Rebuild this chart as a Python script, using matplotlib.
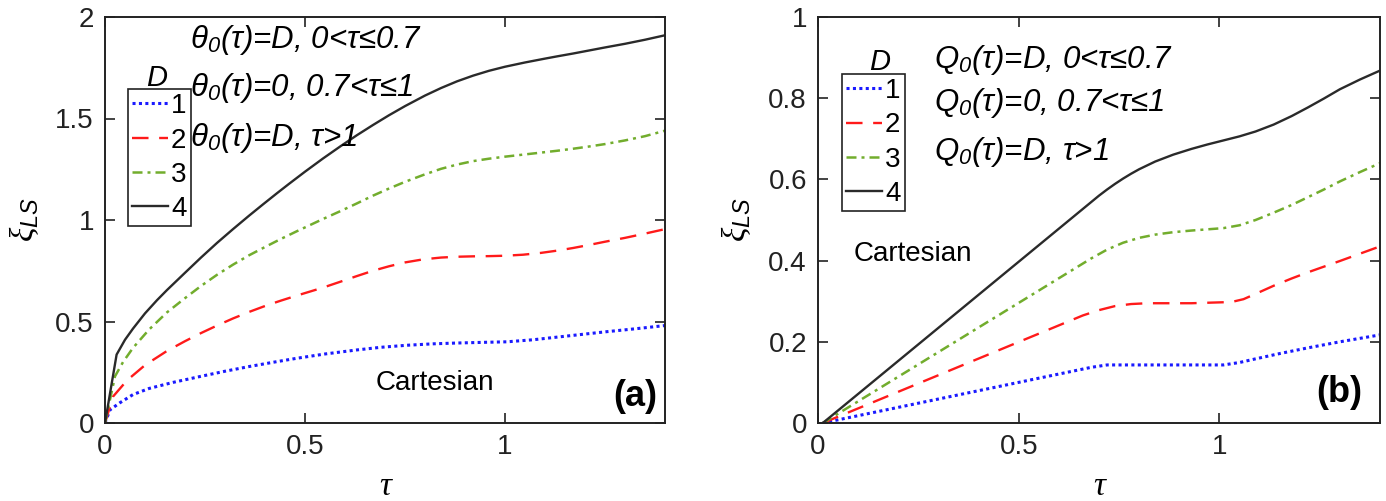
import matplotlib
matplotlib.use('Agg')
import matplotlib.pyplot as plt

# ==================== 字体设置 ====================
plt.rcParams['font.family'] = ['Liberation Sans', 'DejaVu Sans']
plt.rcParams['mathtext.fontset'] = 'custom'
plt.rcParams['mathtext.rm'] = 'Liberation Sans'
plt.rcParams['mathtext.it'] = 'Liberation Serif:italic'
plt.rcParams['mathtext.sf'] = 'Liberation Sans:italic'

# ==================== 数据 ====================
# (a) theta_0 case
tau_a4 = [0, 0.029, 0.05, 0.07, 0.10, 0.13, 0.155, 0.20, 0.24, 0.28, 0.32, 0.36, 0.395, 0.43, 0.46, 0.50,
          0.545, 0.59, 0.63, 0.67, 0.71, 0.75, 0.80, 0.84, 0.88, 0.92, 0.96, 1.00, 1.05, 1.10, 1.13, 1.17,
          1.21, 1.25, 1.30, 1.35, 1.40]
xi_a4 = [0, 0.337, 0.41, 0.465, 0.54, 0.605, 0.655, 0.74, 0.815, 0.887, 0.955, 1.021, 1.077, 1.132, 1.178,
         1.238, 1.303, 1.365, 1.418, 1.468, 1.516, 1.561, 1.613, 1.650, 1.683, 1.711, 1.735, 1.755, 1.776,
         1.795, 1.806, 1.820, 1.835, 1.850, 1.868, 1.888, 1.91]
tau_a3 = [0, 0.025, 0.045, 0.07, 0.11, 0.155, 0.20, 0.24, 0.28, 0.32, 0.36, 0.405, 0.44, 0.48, 0.545, 0.59,
          0.63, 0.67, 0.71, 0.75, 0.80, 0.84, 0.88, 0.92, 0.96, 1.00, 1.045, 1.09, 1.13, 1.17, 1.21, 1.25,
          1.30, 1.35, 1.40]
xi_a3 = [0, 0.23, 0.30, 0.37, 0.46, 0.545, 0.615, 0.675, 0.73, 0.78, 0.826, 0.872, 0.907, 0.945, 1.005,
         1.045, 1.082, 1.12, 1.155, 1.188, 1.225, 1.252, 1.273, 1.29, 1.302, 1.312, 1.322, 1.332, 1.341,
         1.351, 1.362, 1.374, 1.392, 1.413, 1.44]
tau_a2 = [0, 0.02, 0.055, 0.10, 0.155, 0.20, 0.24, 0.28, 0.32, 0.36, 0.405, 0.44, 0.48, 0.545, 0.59, 0.63,
          0.67, 0.71, 0.75, 0.795, 0.84, 0.88, 0.92, 0.96, 1.00, 1.045, 1.09, 1.13, 1.17, 1.21, 1.25, 1.30,
          1.35, 1.40]
xi_a2 = [0, 0.13, 0.21, 0.285, 0.355, 0.403, 0.443, 0.48, 0.515, 0.547, 0.58, 0.603, 0.628, 0.667, 0.697,
         0.724, 0.75, 0.772, 0.791, 0.806, 0.815, 0.819, 0.821, 0.822, 0.824, 0.829, 0.838, 0.849, 0.862,
         0.877, 0.893, 0.912, 0.933, 0.955]
tau_a1 = [0, 0.0125, 0.0375, 0.07, 0.11, 0.17, 0.24, 0.30, 0.36, 0.42, 0.48, 0.55, 0.63, 0.69, 0.755, 0.82,
          0.88, 0.94, 1.005, 1.07, 1.13, 1.19, 1.255, 1.33, 1.40]
xi_a1 = [0, 0.065, 0.10, 0.14, 0.17, 0.20, 0.23, 0.255, 0.278, 0.299, 0.319, 0.34, 0.36, 0.373, 0.383,
         0.39, 0.394, 0.397, 0.40, 0.41, 0.423, 0.436, 0.45, 0.465, 0.48]

# (b) Q_0 case
tau_b4 = [0.012, 0.70, 0.72, 0.74, 0.76, 0.78, 0.80, 0.84, 0.885, 0.93, 0.97, 1.01, 1.05, 1.09, 1.135,
          1.18, 1.22, 1.26, 1.30, 1.35, 1.40]
xi_b4 = [0, 0.56, 0.575, 0.589, 0.602, 0.614, 0.625, 0.644, 0.661, 0.675, 0.686, 0.696, 0.706, 0.718,
         0.735, 0.756, 0.777, 0.799, 0.822, 0.846, 0.868]
tau_b3 = [0.012, 0.68, 0.72, 0.76, 0.80, 0.84, 0.885, 0.93, 0.97, 1.01, 1.05, 1.09, 1.135, 1.18, 1.22,
          1.26, 1.30, 1.35, 1.40]
xi_b3 = [0, 0.405, 0.427, 0.444, 0.456, 0.464, 0.47, 0.474, 0.477, 0.48, 0.487, 0.50, 0.518, 0.537, 0.556,
         0.575, 0.595, 0.618, 0.64]
tau_b2 = [0.012, 0.66, 0.70, 0.74, 0.78, 0.82, 0.93, 1.03, 1.06, 1.09, 1.135, 1.18, 1.22, 1.26, 1.30,
          1.35, 1.40]
xi_b2 = [0, 0.265, 0.278, 0.288, 0.293, 0.295, 0.295, 0.298, 0.305, 0.318, 0.338, 0.356, 0.371, 0.385,
         0.399, 0.417, 0.435]
tau_b1 = [0.012, 0.68, 0.72, 0.85, 1.01, 1.05, 1.09, 1.15, 1.22, 1.30, 1.40]
xi_b1 = [0, 0.137, 0.143, 0.143, 0.143, 0.149, 0.158, 0.171, 0.185, 0.20, 0.217]

D_labels = ['1', '2', '3', '4']
ann_a = [r'θ$_{\mathsf{0}}$(τ)=D, 0<τ≤0.7', r'θ$_{\mathsf{0}}$(τ)=0, 0.7<τ≤1', r'θ$_{\mathsf{0}}$(τ)=D, τ>1']
ann_b = [r'Q$_{\mathsf{0}}$(τ)=D, 0<τ≤0.7', r'Q$_{\mathsf{0}}$(τ)=0, 0.7<τ≤1', r'Q$_{\mathsf{0}}$(τ)=D, τ>1']

# ==================== 样式 ====================
styles = [
    dict(color='#1a1aff', linestyle=(0, (1, 1.1)), linewidth=2.2),
    dict(color='#ff1a1a', linestyle=(0, (7, 4.5)), linewidth=1.7),
    dict(color='#72ad2d', linestyle=(0, (4, 2, 1.2, 2)), linewidth=1.8),
    dict(color='#2a2a2a', linestyle='-', linewidth=1.7),
]

W, H = 1386, 501
fig = plt.figure(figsize=(W / 100, H / 100), dpi=100)


def fx(px):
    return px / W


def fy(py):
    return 1 - py / H


def setup(ax, ymax, yticks, yticklabels):
    ax.set_xlim(0, 1.4)
    ax.set_ylim(0, ymax)
    ax.set_xticks([0, 0.5, 1])
    ax.set_xticklabels(['0', '0.5', '1'])
    ax.set_yticks(yticks)
    ax.set_yticklabels(yticklabels)
    ax.tick_params(direction='in', length=7, width=1.2, labelsize=20,
                   top=True, right=True, pad=8, colors='#222222')
    for s in ax.spines.values():
        s.set_linewidth(1.4)
        s.set_color('#222222')
    ax.set_xlabel('τ', family='Liberation Serif', style='italic', fontsize=24, labelpad=8)
    ax.set_ylabel(r'$\xi_{\mathsf{LS}}$', fontsize=24, va='center')
    ax.yaxis.set_label_coords(-0.145, 0.5)


def add_legend(ax, x0, y0):
    leg = ax.legend(loc='upper left', bbox_to_anchor=(x0, y0),
                    borderaxespad=0, fontsize=20, handlelength=1.3, handletextpad=0.1,
                    borderpad=0.15, labelspacing=0.3, fancybox=False, framealpha=1,
                    edgecolor='#222222')
    leg.get_frame().set_linewidth(1.2)


# ==================== 图 (a) ====================
ax1 = fig.add_axes([fx(105), fy(423), fx(560), 406 / H])
setup(ax1, 2, [0, 0.5, 1, 1.5, 2], ['0', '0.5', '1', '1.5', '2'])
for t, v, st, lab in zip([tau_a1, tau_a2, tau_a3, tau_a4], [xi_a1, xi_a2, xi_a3, xi_a4], styles, D_labels):
    ax1.plot(t, v, label=lab, **st)
add_legend(ax1, (128 - 105) / 560, (423 - 89) / 406)
fig.text(fx(157), fy(78), 'D', style='italic', fontsize=21, ha='center', va='center')
for i, s in enumerate(ann_a):
    fig.text(fx(190), fy([40, 88, 138][i]), s, style='italic', fontsize=22.5, ha='left', va='center')
fig.text(fx(435), fy(383), 'Cartesian', fontsize=20, ha='center', va='center')
fig.text(fx(635), fy(397), '(a)', fontsize=26, fontweight='bold', ha='center', va='center')

# ==================== 图 (b) ====================
ax2 = fig.add_axes([fx(818), fy(423), fx(562), 406 / H])
setup(ax2, 1, [0, 0.2, 0.4, 0.6, 0.8, 1], ['0', '0.2', '0.4', '0.6', '0.8', '1'])
for t, v, st, lab in zip([tau_b1, tau_b2, tau_b3, tau_b4], [xi_b1, xi_b2, xi_b3, xi_b4], styles, D_labels):
    ax2.plot(t, v, label=lab, **st)
add_legend(ax2, (842 - 818) / 562, (423 - 74) / 406)
fig.text(fx(880), fy(62), 'D', style='italic', fontsize=21, ha='center', va='center')
for i, s in enumerate(ann_b):
    fig.text(fx(934), fy([60, 103, 152][i]), s, style='italic', fontsize=22.5, ha='left', va='center')
fig.text(fx(913), fy(254), 'Cartesian', fontsize=20, ha='center', va='center')
fig.text(fx(1339), fy(393), '(b)', fontsize=26, fontweight='bold', ha='center', va='center')

plt.savefig('out.png', dpi=100)
plt.close()
